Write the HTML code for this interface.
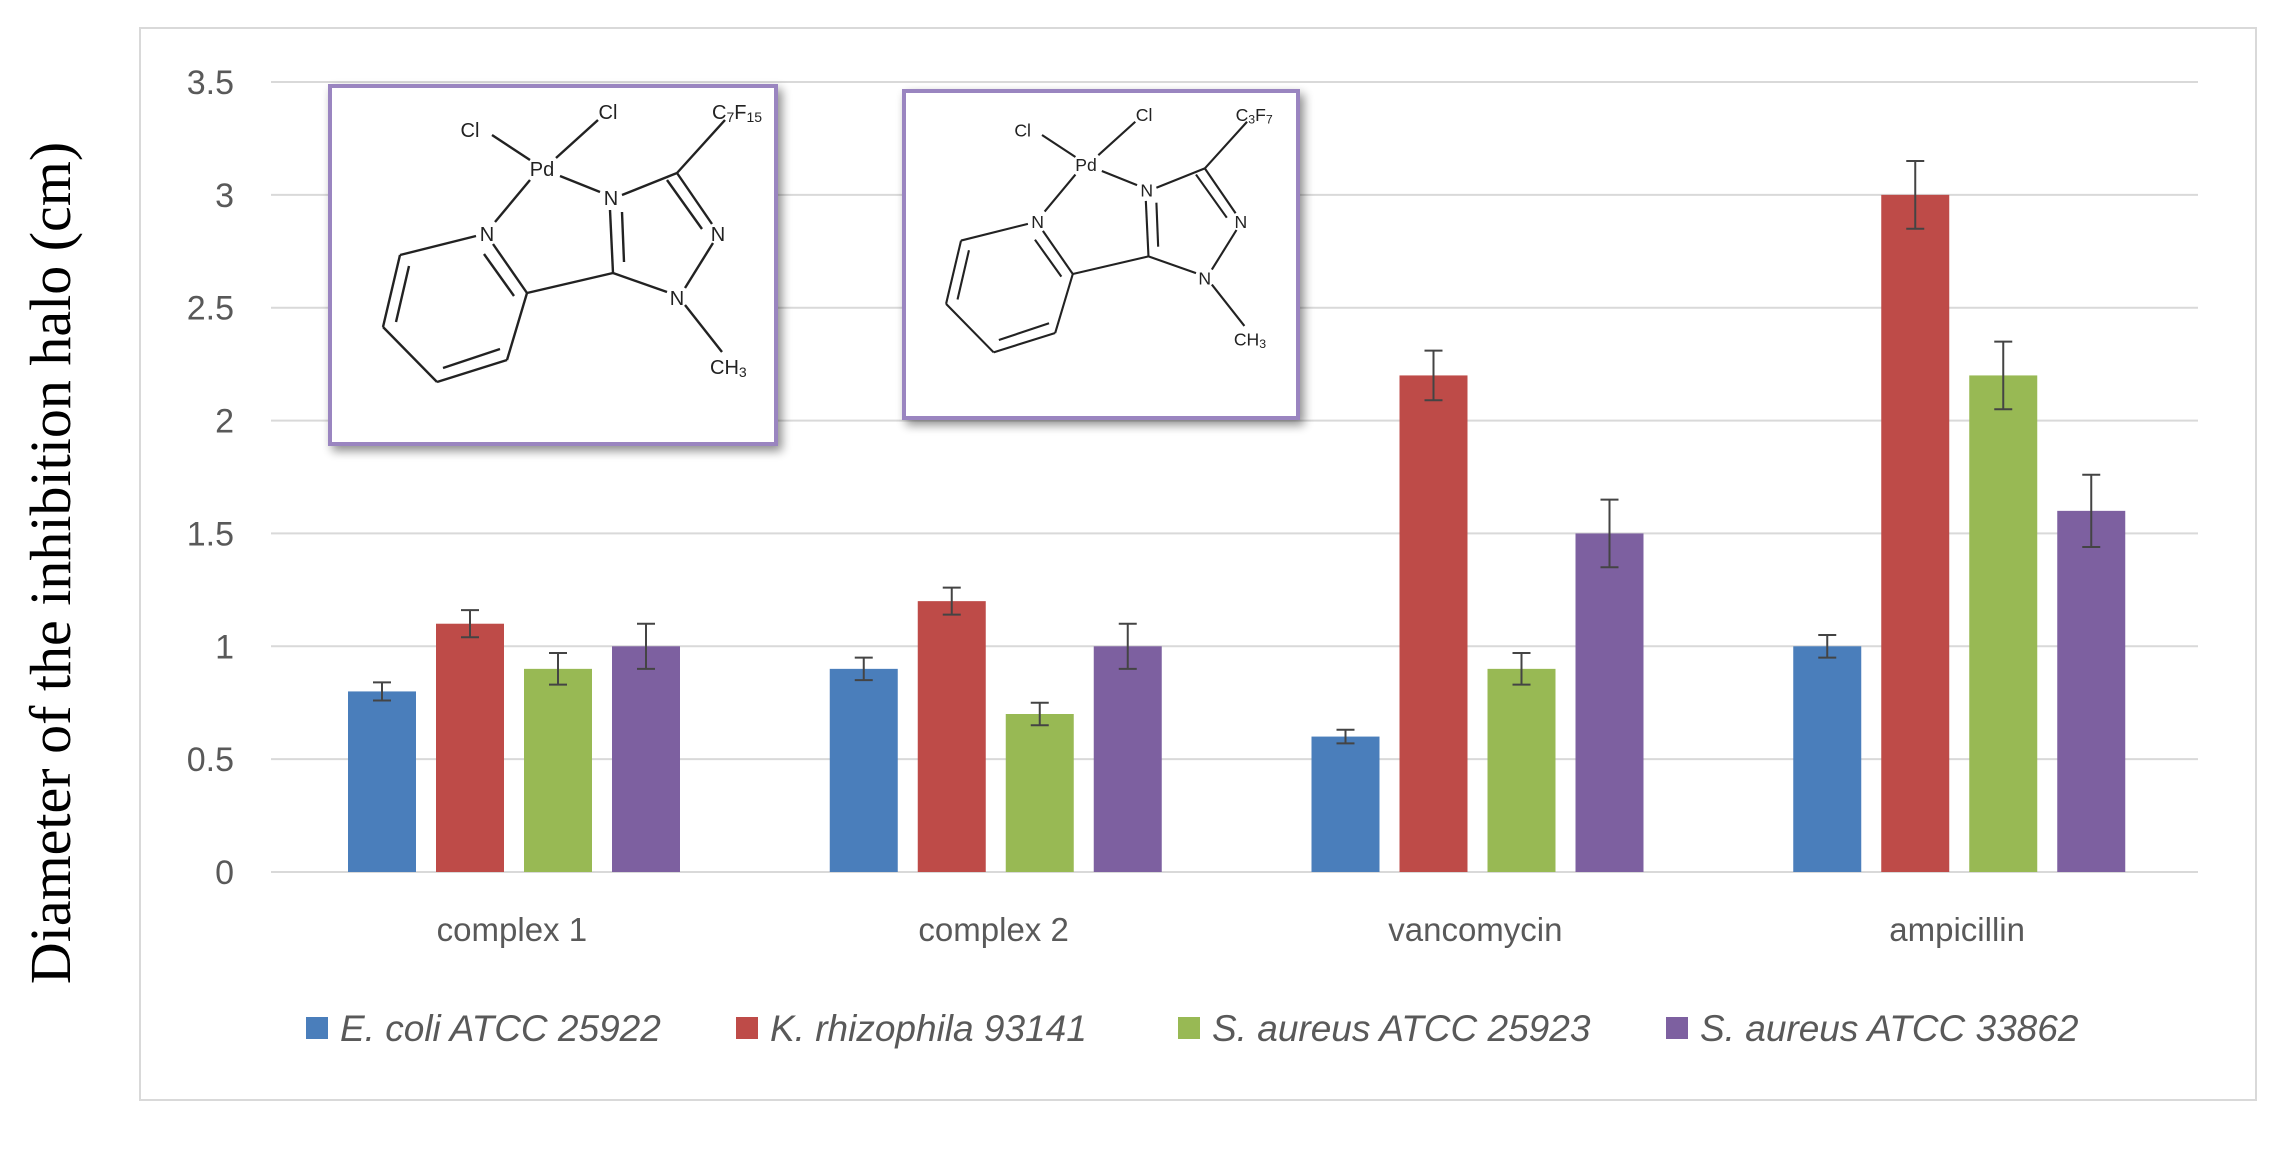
<!DOCTYPE html>
<html><head><meta charset="utf-8"><style>
html,body{margin:0;padding:0;background:#fff;}
svg text{font-family:"Liberation Sans",sans-serif;}
</style></head><body>
<svg id="chart" width="2286" height="1159" viewBox="0 0 2286 1159" xmlns="http://www.w3.org/2000/svg">
<defs>
<filter id="sh" x="-10%" y="-10%" width="125%" height="125%"><feGaussianBlur in="SourceAlpha" stdDeviation="5"/><feOffset dx="4" dy="5"/><feComponentTransfer><feFuncA type="linear" slope="0.45"/></feComponentTransfer><feMerge><feMergeNode/><feMergeNode in="SourceGraphic"/></feMerge></filter>
</defs>
<rect x="140" y="28" width="2116" height="1072" fill="#fff" stroke="#d9d9d9" stroke-width="2"/>
<g id="grid"></g>
<g id="yticks"></g>
<g id="bars"></g>
<g id="xlabels"></g>
<text transform="translate(70,563) rotate(-90)" text-anchor="middle" font-size="58" fill="#000" style="font-family:'Liberation Serif',serif">Diameter of the inhibition halo (cm)</text>
<g id="legend"></g>

<g id="inset1">
<rect x="330" y="86" width="446" height="358" fill="#fff" stroke="#9a85c0" stroke-width="4" filter="url(#sh)"/>
<g id="mol1" stroke="#222" stroke-width="2.4" fill="none">
<line x1="492" y1="135" x2="530" y2="160"/><line x1="598" y1="120" x2="556" y2="158"/>
<line x1="530" y1="180" x2="495" y2="222"/><line x1="560" y1="176" x2="600" y2="192"/>
<line x1="622" y1="195" x2="677" y2="173"/><line x1="677" y1="173" x2="725" y2="120"/>
<line x1="677" y1="173" x2="712" y2="224"/><line x1="667" y1="180" x2="702" y2="229"/>
<line x1="713" y1="243" x2="685" y2="288"/><line x1="667" y1="292" x2="613" y2="273"/>
<line x1="610" y1="210" x2="613" y2="273"/><line x1="622" y1="212" x2="624" y2="262"/>
<line x1="613" y1="273" x2="527" y2="293"/><line x1="685" y1="305" x2="722" y2="352"/>
<line x1="476" y1="236" x2="400" y2="255"/><line x1="493" y1="244" x2="527" y2="293"/><line x1="484" y1="254" x2="514" y2="296"/>
<line x1="527" y1="293" x2="507" y2="360"/><line x1="507" y1="360" x2="437" y2="382"/><line x1="500" y1="349" x2="443" y2="368"/>
<line x1="437" y1="382" x2="383" y2="327"/><line x1="383" y1="327" x2="400" y2="255"/><line x1="396" y1="322" x2="409" y2="266"/>
</g>
<g font-size="20" fill="#222">
<text x="470" y="137" text-anchor="middle">Cl</text><text x="608" y="119" text-anchor="middle">Cl</text>
<text x="542" y="176" text-anchor="middle">Pd</text><text x="487" y="241" text-anchor="middle">N</text>
<text x="611" y="205" text-anchor="middle">N</text><text x="718" y="241" text-anchor="middle">N</text>
<text x="677" y="305" text-anchor="middle">N</text>
<text x="712" y="119">C<tspan font-size="14" dy="3">7</tspan><tspan dy="-3">F</tspan><tspan font-size="14" dy="3">15</tspan></text>
<text x="710" y="374">CH<tspan font-size="14" dy="3">3</tspan></text>
</g>
</g>

<g id="inset2">
<rect x="904" y="91" width="394" height="327" fill="#fff" stroke="#9a85c0" stroke-width="4" filter="url(#sh)"/>
<g transform="translate(1086,164) scale(0.88) translate(-542,-168)">
<use href="#mol1"/>
<g font-size="20" fill="#222">
<text x="470" y="137" text-anchor="middle">Cl</text><text x="608" y="119" text-anchor="middle">Cl</text>
<text x="542" y="176" text-anchor="middle">Pd</text><text x="487" y="241" text-anchor="middle">N</text>
<text x="611" y="205" text-anchor="middle">N</text><text x="718" y="241" text-anchor="middle">N</text>
<text x="677" y="305" text-anchor="middle">N</text>
<text x="712" y="119">C<tspan font-size="14" dy="3">3</tspan><tspan dy="-3">F</tspan><tspan font-size="14" dy="3">7</tspan></text>
<text x="710" y="374">CH<tspan font-size="14" dy="3">3</tspan></text>
</g>
</g>
</g>
</svg>
<script>
const categories = ["complex 1","complex 2","vancomycin","ampicillin"];
const seriesNames = ["E. coli ATCC 25922","K. rhizophila 93141","S. aureus ATCC 25923","S. aureus ATCC 33862"];
const ecoli = [0.8,0.9,0.6,1.0];
const krhiz = [1.1,1.2,2.2,3.0];
const saur1 = [0.9,0.7,0.9,2.2];
const saur2 = [1.0,1.0,1.5,1.6];
const ecoliErr = [0.04,0.05,0.03,0.05];
const krhizErr = [0.06,0.06,0.11,0.15];
const saur1Err = [0.07,0.05,0.07,0.15];
const saur2Err = [0.1,0.1,0.15,0.16];
const yTicks = [0,0.5,1,1.5,2,2.5,3,3.5];

const NS="http://www.w3.org/2000/svg";
const colors=["#4a7ebb","#be4b48","#98b954","#7d60a0"];
const series=[ecoli,krhiz,saur1,saur2];
const errs=[ecoliErr,krhizErr,saur1Err,saur2Err];
const X0=271,X1=2198,Y0=872,Y1=82,YMAX=3.5;
const y=v=>Y0-(v/YMAX)*(Y0-Y1);
const catW=(X1-X0)/categories.length;
const barW=68,barStep=88,barOff=77;
const bx=(c,s)=>X0+c*catW+barOff+s*barStep;
function mk(tag,attrs,parent){const e=document.createElementNS(NS,tag);for(const k in attrs)e.setAttribute(k,attrs[k]);parent.appendChild(e);return e;}
const grid=document.getElementById('grid'),yt=document.getElementById('yticks');
yTicks.forEach(t=>{
  const l=mk('line',{x1:X0,x2:X1,y1:y(t),y2:y(t),stroke:'#d9d9d9','stroke-width':2},grid);
  
  
  const tx=mk('text',{x:234,y:y(t)+12,'text-anchor':'end','font-size':34,fill:'#595959'},yt);
  tx.textContent=String(t);
  
  
});
const bars=document.getElementById('bars');
series.forEach((vals,s)=>{
  vals.forEach((v,c)=>{
    const x=bx(c,s);
    const r=mk('rect',{x:x,y:y(v),width:barW,height:Y0-y(v),fill:colors[s]},bars);
    
    
    const e=errs[s][c],cx=x+barW/2;
    const g=mk('g',{stroke:'#444','stroke-width':2},bars);
    
    
    mk('line',{x1:cx,x2:cx,y1:y(v+e),y2:y(v-e)},g);
    mk('line',{x1:cx-9,x2:cx+9,y1:y(v+e),y2:y(v+e)},g);
    mk('line',{x1:cx-9,x2:cx+9,y1:y(v-e),y2:y(v-e)},g);
  });
});
const xl=document.getElementById('xlabels');
categories.forEach((c,i)=>{
  const t=mk('text',{x:X0+catW*(i+0.5),y:941,'text-anchor':'middle','font-size':33,fill:'#595959'},xl);
  t.textContent=c;
  
  
});
const lg=document.getElementById('legend');
const lx=[306,736,1178,1666];
seriesNames.forEach((n,i)=>{
  const r=mk('rect',{x:lx[i],y:1017,width:22,height:22,fill:colors[i]},lg);
  
  
  const t=mk('text',{x:lx[i]+34,y:1041,'font-size':37,'font-style':'italic',fill:'#595959'},lg);
  t.textContent=n;
  
  
});
</script>
</body></html>
